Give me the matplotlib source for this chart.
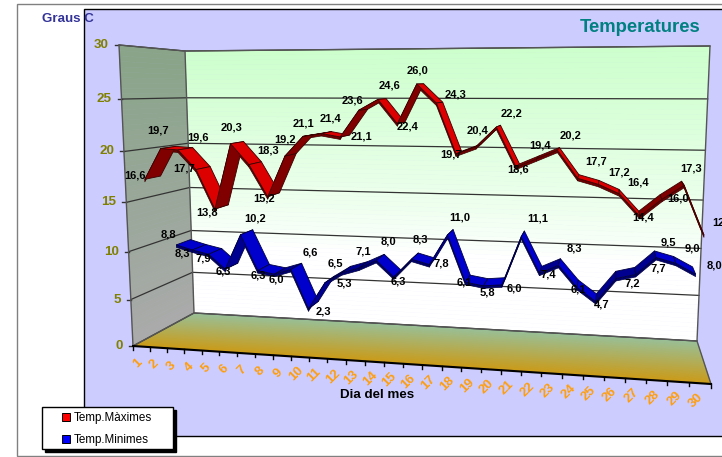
import numpy as np
import matplotlib
matplotlib.use("Agg")
import matplotlib.pyplot as plt
from matplotlib.collections import PolyCollection
from matplotlib.lines import Line2D
from matplotlib.patches import Rectangle

plt.rcParams['font.family'] = ['Liberation Sans', 'DejaVu Sans']

days = list(range(1, 31))
temp_max = [16.6, 19.7, 19.6, 17.7, 13.8, 20.3, 18.3, 15.2, 19.2, 21.1, 21.4, 21.1, 23.6, 24.6, 22.4,
            26.0, 24.3, 19.7, 20.4, 22.2, 18.6, 19.4, 20.2, 17.7, 17.2, 16.4, 14.4, 16.0, 17.3, 12.9]
temp_min = [8.8, 8.3, 7.9, 6.3, 10.2, 6.3, 6.0, 6.6, 2.3, 5.3, 6.5, 7.1, 8.0, 6.3, 8.3,
            7.8, 11.0, 6.1, 5.8, 6.0, 11.1, 7.4, 8.3, 6.1, 4.7, 7.2, 7.7, 9.5, 9.0, 8.0]
value_ticks = [0, 5, 10, 15, 20, 25, 30]
series_names = ['Temp.Màximes', 'Temp.Minimes']
title = 'Temperatures'
y_title = 'Graus C'
x_title = 'Dia del mes'

# label placement (pixels right, pixels down) relative to the projected point
max_label_offsets = [(-10, -9), (-3, -23), (20, -17), (-12, -6), (-8, -2), (1, -21), (19, -19), (-4, -3),
                     (0, -22), (1, -18), (9, -20), (21, -5), (-6, -15), (12, -19), (10, -2), (1, -18),
                     (19, -14), (-5, -4), (2, -21), (15, -19), (2, -3), (3, -18), (13, -20), (18, -22),
                     (21, -17), (19, -16), (3, -4), (16, -6), (7, -22), (19, -17)]
min_label_offsets = [(-8, -15), (-10, -1), (-5, 0), (-2, -2), (15, -21), (0, 0), (2, 1), (19, -21),
                     (15, -2), (19, -4), (-6, -14), (4, -21), (12, -23), (4, 0), (9, -24), (12, -6),
                     (12, -22), (-1, -4), (4, 2), (12, -1), (16, -23), (9, -3), (16, -21), (1, -2),
                     (6, -2), (16, 1), (23, -10), (12, -19), (17, -19), (19, -13)]

# projection: plane corners (left-bottom, right-bottom, right-top, left-top) in pixels
FRONT = [(133, 346), (711, 384), (727, 40), (119, 45)]
BACK = [(194, 313), (697, 341), (710, 46), (185, 51)]


def homography(q):
    src = [(0, 0), (1, 0), (1, 1), (0, 1)]
    A, b = [], []
    for (u, v), (x, y) in zip(src, q):
        A.append([u, v, 1, 0, 0, 0, -u * x, -v * x]); b.append(x)
        A.append([0, 0, 0, u, v, 1, -u * y, -v * y]); b.append(y)
    return np.append(np.linalg.solve(np.array(A, float), np.array(b, float)), 1).reshape(3, 3)


HF, HB = homography(FRONT), homography(BACK)


def apply(H, u, w):
    p = H @ np.array([u, w, 1.0])
    return p[:2] / p[2]


def project(pos, value, depth):
    """pos: 0..30 along the category axis, value: 0..30, depth: 0 front .. 1 back."""
    u = pos / 30.0
    w = value / 30.0
    w = w - 0.044 * w * (1 - w)
    return (1 - depth) * apply(HF, u, w) + depth * apply(HB, u, w)


def mix(c0, c1, f):
    a, b = np.array(matplotlib.colors.to_rgb(c0)), np.array(matplotlib.colors.to_rgb(c1))
    return tuple(a + (b - a) * np.clip(f, 0, 1))


fig = plt.figure(figsize=(7.22, 4.57), dpi=100, facecolor='white')
ax = fig.add_axes([0, 0, 1, 1])
ax.set_xlim(0, 722)
ax.set_ylim(457, 0)
ax.axis('off')

# chart frames
ax.add_patch(Rectangle((16.5, 4), 720, 452, fc='white', ec='#808080', lw=1, zorder=0))
ax.add_patch(Rectangle((84, 9), 660, 427, fc='#CCCCFF', ec='black', lw=1, zorder=0.5))

# walls and floor as gradient strips
N = 60
vals = np.linspace(0, 30, N + 1)
back_polys, back_cols, left_polys, left_cols = [], [], [], []
for a, b in zip(vals[:-1], vals[1:]):
    back_polys.append([project(0, a, 1), project(30, a, 1), project(30, b, 1), project(0, b, 1)])
    f = (a - 8) / 22
    back_cols.append(mix('#FFFFFF', '#CCFFCC', f ** 0.8 if f > 0 else 0))
    left_polys.append([project(0, a, 0), project(0, a, 1), project(0, b, 1), project(0, b, 0)])
    left_cols.append(mix('#AAAAAA', '#88A488', a / 30))
depths = np.linspace(0, 1, N + 1)
floor_polys, floor_cols = [], []
for a, b in zip(depths[:-1], depths[1:]):
    floor_polys.append([project(0, 0, a), project(30, 0, a), project(30, 0, b), project(0, 0, b)])
    floor_cols.append(mix('#CC9A14', '#98C098', a))
for polys, cols in ((back_polys, back_cols), (left_polys, left_cols), (floor_polys, floor_cols)):
    ax.add_collection(PolyCollection(polys, facecolors=cols, edgecolors=cols, linewidths=0.4, zorder=1))

# gridlines
for v in value_ticks:
    pts = np.array([project(0, v, 0), project(0, v, 1), project(30, v, 1)])
    ax.plot(pts[:, 0], pts[:, 1], color='#333333', lw=0.9, zorder=2)
    t0 = project(0, v, 0)
    ax.plot([t0[0] - 4, t0[0]], [t0[1], t0[1]], color='#333333', lw=1, zorder=2)
    ax.text(t0[0] - 10, t0[1], str(v), color='#808000', fontsize=9.6, fontweight='bold',
            ha='right', va='center', zorder=6)

# wall edges
for pts in ([project(0, 0, 0), project(0, 30, 0), project(0, 30, 1), project(30, 30, 1), project(30, 0, 1)],
            [project(0, 0, 1), project(0, 30, 1)],
            [project(0, 0, 0), project(0, 0, 1), project(30, 0, 1), project(30, 0, 0)]):
    pts = np.array(pts)
    ax.plot(pts[:, 0], pts[:, 1], color='#555555', lw=1, zorder=2.5)

# category axis
p0, p1 = project(0, 0, 0), project(30, 0, 0)
ax.plot([p0[0], p1[0]], [p0[1], p1[1]], color='black', lw=1.5, zorder=3)
for k in range(31):
    t = project(k, 0, 0)
    ax.plot([t[0], t[0]], [t[1], t[1] + 3.5], color='black', lw=1, zorder=3)
for d in days:
    c = project(d - 0.5, 0, 0)
    ax.text(c[0] - 4, c[1] + 17, str(d), color='#FF9E0D', fontsize=9.5, fontweight='bold', rotation=45,
            ha='center', va='center', rotation_mode='anchor', zorder=6)


def ribbon(values, z0, z1, lift, thick, dark, bright, side, edge, z):
    """Top face between the two depths plus a thin front face below it."""
    tops, top_cols, fronts = [], [], []
    up = np.array([0, lift])
    down = np.array([0, thick])
    for i in range(len(values) - 1):
        a, b = i + 0.5, i + 1.5
        p, q = project(a, values[i], z0) - up, project(b, values[i + 1], z0) - up
        r, s = project(b, values[i + 1], z1) - up, project(a, values[i], z1) - up
        tops.append([p, q, r, s])
        top_cols.append(dark if values[i + 1] - values[i] > 0.4 else bright)
        fronts.append([p, q, q + down, p + down])
    ax.add_collection(PolyCollection(fronts, facecolors=side, edgecolors=edge, linewidths=0.5, zorder=z))
    ax.add_collection(PolyCollection(tops, facecolors=top_cols, edgecolors=edge, linewidths=0.6, zorder=z + 0.1))


ribbon(temp_min, 0.63, 0.86, 4.5, 2.5, '#000090', '#0000CC', '#000070', '#000040', 4)
ribbon(temp_max, 0.17, 0.42, 5, 2.5, '#800000', '#DD0000', '#700000', '#3A0000', 4.5)

for vals_s, z, offsets in ((temp_max, 0.17, max_label_offsets), (temp_min, 0.63, min_label_offsets)):
    for i, (v, (dx, dy)) in enumerate(zip(vals_s, offsets)):
        p = project(i + 0.5, v, z)
        ax.annotate(f'{v:.1f}'.replace('.', ','), xy=p, xytext=(dx, -dy), textcoords='offset pixels',
                    fontsize=8, fontweight='bold', color='black', ha='center', va='center',
                    annotation_clip=False, zorder=7)

ax.text(68, 19, y_title, color='#333399', fontsize=9.6, fontweight='bold', ha='center', va='center', zorder=7)
ax.text(640, 27, title, color='#008080', fontsize=13.3, fontweight='bold', ha='center', va='center', zorder=7)
ax.text(377, 395, x_title, color='black', fontsize=9.6, fontweight='bold', ha='center', va='center', zorder=7)

# legend box with drop shadow
ax.add_patch(Rectangle((45, 410), 131, 42, fc='black', ec='black', lw=1, zorder=8))
ax.add_patch(Rectangle((42, 407), 131, 42, fc='white', ec='black', lw=1, zorder=8.1))
handles = [Line2D([], [], ls='none', marker='s', ms=5.5, mfc='#FF0000', mec='black', mew=0.7),
           Line2D([], [], ls='none', marker='s', ms=5.5, mfc='#0000FF', mec='black', mew=0.7)]
leg = ax.legend(handles, series_names, loc='upper left', bbox_to_anchor=(44 / 722, 1 - 409 / 457),
                frameon=False, fontsize=8.4, borderaxespad=0, borderpad=0.25, labelspacing=0.85,
                handlelength=3.3, handletextpad=-1.0, numpoints=1)
leg.set_zorder(9)

fig.savefig('out.png', dpi=100)
